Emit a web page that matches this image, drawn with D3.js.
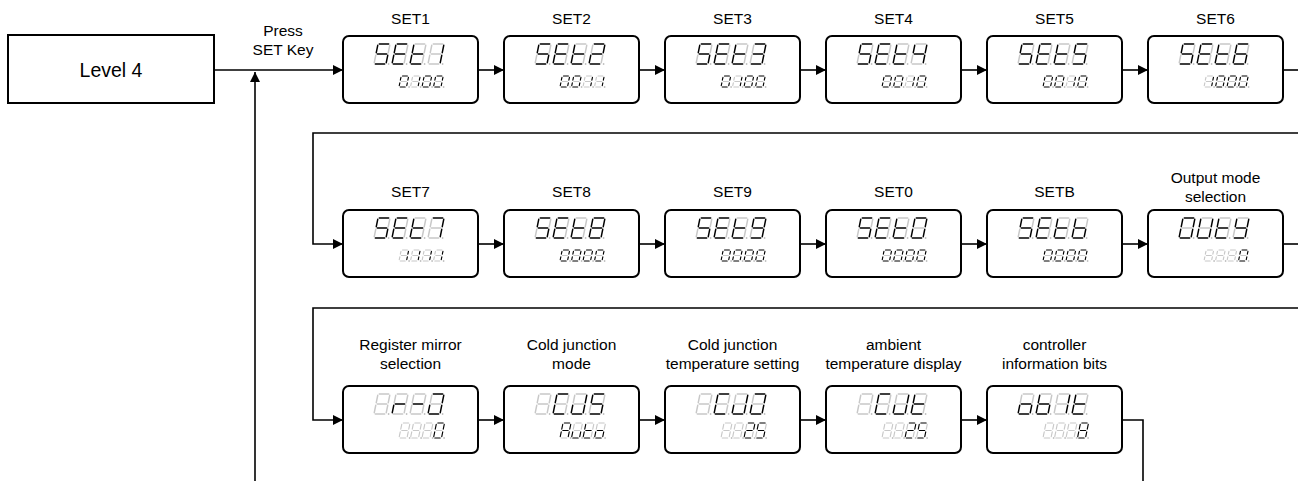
<!DOCTYPE html>
<html>
<head>
<meta charset="utf-8">
<script src="https://cdn.jsdelivr.net/npm/d3@7"></script>
<style>
  body { margin: 0; background: #fff; }
  text { font-family: "Liberation Sans", Arial, sans-serif; fill: #000; }
</style>
</head>
<body>
<script>
'use strict';

// labels above each display, one array per row
const row1Labels = [["SET1"], ["SET2"], ["SET3"], ["SET4"], ["SET5"], ["SET6"]];
const row2Labels = [["SET7"], ["SET8"], ["SET9"], ["SET0"], ["SETB"], ["Output mode", "selection"]];
const row3Labels = [["Register mirror", "selection"], ["Cold junction", "mode"],
  ["Cold junction", "temperature setting"], ["ambient", "temperature display"],
  ["controller", "information bits"]];

// what the upper and lower 7-segment displays show (space = all segments off)
const row1Top = ["SEt1", "SEt2", "SEt3", "SEt4", "SEt5", "SEt6"];
const row1Bottom = ["0100", "0011", "0100", "0010", "0010", "1000"];
const row2Top = ["SEt7", "SEt8", "SEt9", "SEt0", "SEtb", "OUtY"];
const row2Bottom = ["1111", "0000", "0000", "0000", "0000", "   0"];
const row3Top = [" r-Q", " CJS", " CJQ", " CJt", "ob1t"];
const row3Bottom = ["   0", "Auto", "  25", "  25", "   8"];

// lit segments for each character
const segMap = {
  "0": "abcdef", "1": "bc", "2": "abged", "3": "abgcd", "4": "fgbc",
  "5": "afgcd", "6": "afgedc", "7": "abc", "8": "abcdefg", "9": "abcdfg",
  "S": "afgcd", "E": "afged", "t": "fged", "b": "fgedc", "o": "gcde",
  "r": "eg", "-": "g", "C": "afed", "J": "bcde", "A": "abcefg", "u": "cde",
  "U": "bcdef", "O": "abcdef", "Y": "fgbcd", "Q": "abcde", " ": ""
};

const W = 1298, H = 481;
const svg = d3.select("body").append("svg")
  .attr("width", W).attr("height", H);

const defs = svg.append("defs");
defs.append("marker")
  .attr("id", "arrow")
  .attr("viewBox", "0 0 10 10")
  .attr("refX", 10).attr("refY", 5)
  .attr("markerWidth", 12).attr("markerHeight", 10)
  .attr("markerUnits", "userSpaceOnUse")
  .attr("orient", "auto")
  .append("path").attr("d", "M0,0 L10,5 L0,10 Z").attr("fill", "#000");

// column and row placement
const colX = d3.scaleLinear().domain([0, 5]).range([343, 1148]);
const boxW = 135, boxH = 67;
const rowTop = [36, 210, 386];

function line(pts, arrow) {
  svg.append("path")
    .attr("d", d3.line()(pts))
    .attr("fill", "none")
    .attr("stroke", "#000")
    .attr("stroke-width", 1.6)
    .attr("marker-end", arrow ? "url(#arrow)" : null);
}

// one seven segment digit, top-left of the unslanted cell at (x, y)
function digit(g, x, y, w, h, ch, sw) {
  const sl = 0.2;
  const gap = 1.3;
  const px = (u, v) => [x + u + (h - v) * sl, y + v];
  const segs = {
    a: [[gap, 0], [w - gap, 0]],
    b: [[w, gap], [w, h / 2 - gap]],
    c: [[w, h / 2 + gap], [w, h - gap]],
    d: [[gap, h], [w - gap, h]],
    e: [[0, h / 2 + gap], [0, h - gap]],
    f: [[0, gap], [0, h / 2 - gap]],
    g: [[gap, h / 2], [w - gap, h / 2]]
  };
  const on = segMap[ch] || "";
  Object.keys(segs).forEach(k => {
    const s = segs[k];
    const p1 = px(s[0][0], s[0][1]), p2 = px(s[1][0], s[1][1]);
    g.append("line")
      .attr("x1", p1[0]).attr("y1", p1[1])
      .attr("x2", p2[0]).attr("y2", p2[1])
      .attr("stroke", on.includes(k) ? "#000" : "#c8c8c8")
      .attr("stroke-width", sw)
      .attr("stroke-linecap", "round");
  });
  const dp = px(w + 2.6, h);
  g.append("circle").attr("cx", dp[0]).attr("cy", dp[1])
    .attr("r", 0.9).attr("fill", "#c0c0c0");
}

function display(x0, y0, top, bottom, big) {
  const g = svg.append("g");
  g.append("rect")
    .attr("x", x0).attr("y", y0)
    .attr("width", boxW).attr("height", boxH)
    .attr("rx", 6).attr("ry", 6)
    .attr("fill", "#fff").attr("stroke", "#000").attr("stroke-width", 2);
  top.split("").forEach((ch, i) => digit(g, x0 + 31 + i * 18, y0 + 8, 12, 20, ch, 1.5));
  const bh = big ? 15 : 11, by = big ? y0 + 37 : y0 + 40;
  bottom.split("").forEach((ch, i) => digit(g, x0 + 56 + i * 11.5, by, big ? 8 : 7.5, bh, ch, 1.15));
}

function label(cx, lines, yFirst) {
  lines.forEach((t, i) => {
    svg.append("text")
      .attr("x", cx).attr("y", yFirst + i * 19)
      .attr("text-anchor", "middle")
      .style("font-size", "15.5px")
      .text(t);
  });
}

// Level 4 box and entry arrow
svg.append("rect").attr("x", 8).attr("y", 35).attr("width", 206).attr("height", 68)
  .attr("fill", "#fff").attr("stroke", "#000").attr("stroke-width", 2);
svg.append("text").attr("x", 111).attr("y", 77).attr("text-anchor", "middle")
  .style("font-size", "19.5px").text("Level 4");
label(283, ["Press", "SET Key"], 36);
line([[214, 70], [343, 70]], true);
line([[255, H], [255, 72]], true);

// rows of displays
const rows = [
  { labels: row1Labels, top: row1Top, bottom: row1Bottom, ly1: 24, ly2: 24 },
  { labels: row2Labels, top: row2Top, bottom: row2Bottom, ly1: 197, ly2: 183 },
  { labels: row3Labels, top: row3Top, bottom: row3Bottom, ly1: 350, ly2: 350 }
];

rows.forEach((r, ri) => {
  const y0 = rowTop[ri];
  const ym = y0 + 34;
  r.top.forEach((t, i) => {
    const x0 = colX(i);
    display(x0, y0, t, r.bottom[i], ri === 2);
    const lab = r.labels[i];
    label(x0 + boxW / 2, lab, lab.length > 1 ? r.ly2 : r.ly1);
    if (i > 0) line([[colX(i - 1) + boxW, ym], [x0, ym]], true);
  });
});

// connectors between rows and exits
line([[colX(5) + boxW, 70], [W, 70]], false);
line([[W, 133], [313, 133], [313, 244], [343, 244]], true);
line([[colX(5) + boxW, 244], [W, 244]], false);
line([[W, 308], [313, 308], [313, 420], [343, 420]], true);
line([[colX(4) + boxW, 420], [1143, 420], [1143, H]], false);
</script>
</body>
</html>
